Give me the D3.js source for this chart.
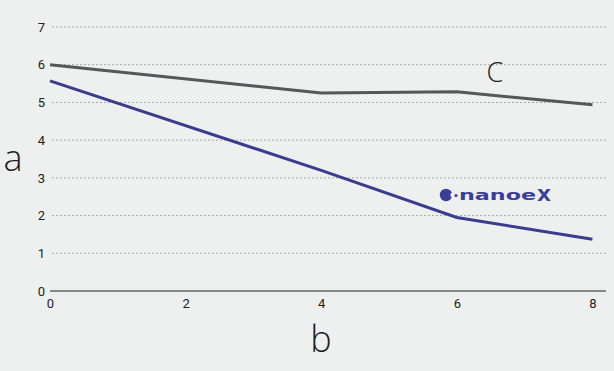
<!DOCTYPE html>
<html><head><meta charset="utf-8">
<script src="https://cdn.jsdelivr.net/npm/d3@7"></script>
<style>html,body{margin:0;padding:0;background:#edf0ef;}</style>
</head><body>
<svg id="c" width="614" height="371"></svg>
<script>
const xTicks = [0, 2, 4, 6, 8];
const yTicks = [0, 1, 2, 3, 4, 5, 6, 7];
const seriesC_x = [0, 4, 6, 8];
const seriesC_y = [6.0, 5.25, 5.28, 4.94];
const seriesN_x = [0, 4, 6, 8];
const seriesN_y = [5.57, 3.2, 1.95, 1.37];

const svg = d3.select("#c");
svg.append("rect").attr("width",614).attr("height",371).attr("fill","#edf0ef");
const x = d3.scaleLinear().domain([0, 8.2]).range([50, 606]);
const y = d3.scaleLinear().domain([0, 7]).range([291, 27]);

svg.append("g").selectAll("line").data(yTicks.filter(d=>d>0)).join("line")
  .attr("x1", 52).attr("x2", 606).attr("y1", d=>y(d)).attr("y2", d=>y(d))
  .attr("stroke","#a4a7a6").attr("stroke-width",1).attr("stroke-dasharray","2,2");

const ya = svg.append("g").attr("transform","translate(50,0)")
  .call(d3.axisLeft(y).tickValues(yTicks).tickSize(0).tickPadding(5).tickFormat(d3.format("d")));
ya.select(".domain").remove();
ya.selectAll("text").attr("font-family","Roboto, Liberation Sans, sans-serif").attr("font-size",13).attr("fill","#222");

const xa = svg.append("g").attr("transform","translate(0,291)")
  .call(d3.axisBottom(x).tickValues(xTicks).tickSize(0).tickPadding(8).tickFormat(d3.format("d")));
xa.select(".domain").attr("stroke","#858887").attr("stroke-width",2.2).attr("d","M50,0H606");
xa.selectAll("text").attr("font-family","Roboto, Liberation Sans, sans-serif").attr("font-size",13).attr("fill","#222");

const line = d3.line().x(d=>x(d[0])).y(d=>y(d[1]));
svg.append("path").datum(seriesC_x.map((v,i)=>[v, seriesC_y[i]]))
  .attr("d", line).attr("fill","none").attr("stroke","#555858").attr("stroke-width",3);
svg.append("path").datum(seriesN_x.map((v,i)=>[v, seriesN_y[i]]))
  .attr("d", line).attr("fill","none").attr("stroke","#3a3c8e").attr("stroke-width",3);

svg.append("text").attr("x",13).attr("y",171).attr("text-anchor","middle")
  .attr("font-family","Open Sans, sans-serif").attr("font-weight",300).attr("font-size",36).attr("fill","#1e1e1e").text("a");
svg.append("text").attr("x",321).attr("y",352).attr("text-anchor","middle")
  .attr("font-family","Open Sans, sans-serif").attr("font-weight",300).attr("font-size",36).attr("fill","#1e1e1e").text("b");
svg.append("text").attr("x",495).attr("y",82).attr("text-anchor","middle")
  .attr("font-family","Open Sans, sans-serif").attr("font-weight",300).attr("font-size",27).attr("fill","#1e1e1e").text("C");

const lg = svg.append("g").attr("fill","#3a3d9c");
lg.append("circle").attr("cx",446).attr("cy",195).attr("r",6.2);
lg.append("circle").attr("cx",452.5).attr("cy",195).attr("r",2.2).attr("fill","#edf0ef");
lg.append("circle").attr("cx",456).attr("cy",195.5).attr("r",1.6);
lg.append("text").attr("x",459).attr("y",200).attr("font-family","Verdana, DejaVu Sans, sans-serif")
  .attr("font-weight","bold").attr("font-size",14).attr("textLength",77).attr("lengthAdjust","spacingAndGlyphs").text("nanoe");
lg.append("text").attr("x",537).attr("y",200.5).attr("font-family","DejaVu Sans, sans-serif")
  .attr("font-weight","bold").attr("font-size",15).attr("textLength",14).attr("lengthAdjust","spacingAndGlyphs").text("X");
</script>
</body></html>
